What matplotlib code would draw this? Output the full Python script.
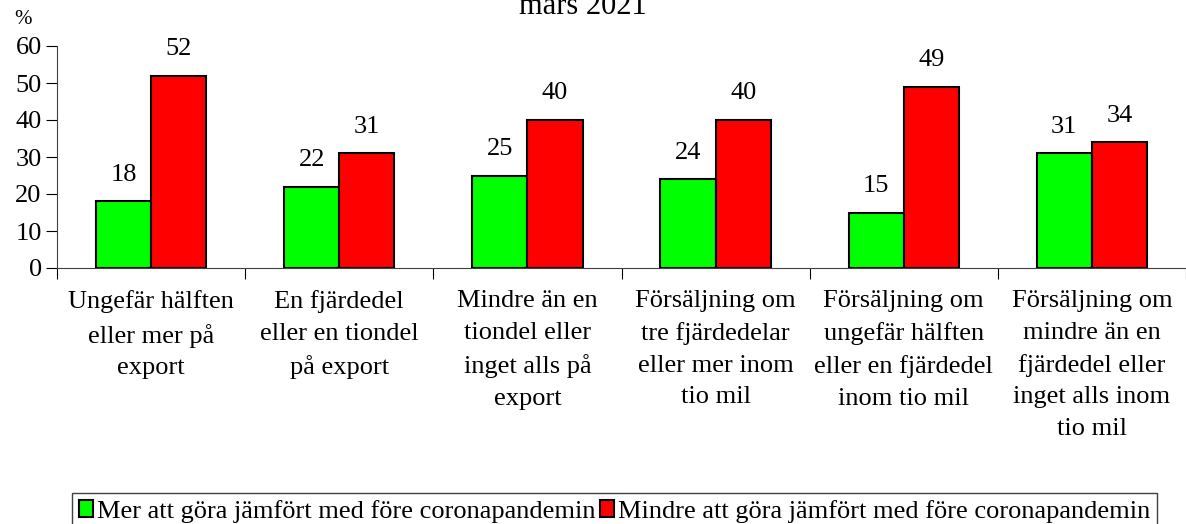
import matplotlib.pyplot as plt
import numpy as np

plt.rcParams['font.family'] = ['Liberation Serif', 'DejaVu Serif']

kategorier = ["Ungefär hälften\neller mer på\nexport",
              "En fjärdedel\neller en tiondel\npå export",
              "Mindre än en\ntiondel eller\ninget alls på\nexport",
              "Försäljning om\ntre fjärdedelar\neller mer inom\ntio mil",
              "Försäljning om\nungefär hälften\neller en fjärdedel\ninom tio mil",
              "Försäljning om\nmindre än en\nfjärdedel eller\ninget alls inom\ntio mil"]
mer = [18, 22, 25, 24, 15, 31]
mindre = [52, 31, 40, 40, 49, 34]
serier = ["Mer att göra jämfört med före coronapandemin",
          "Mindre att göra jämfört med före coronapandemin"]

fig = plt.figure(figsize=(11.86, 5.24), dpi=100)
ax = fig.add_axes([57/1186, 1-268/524, 1129/1186, 222/524])

x = np.arange(len(kategorier))
w = 0.293
b1 = ax.bar(x - w/2, mer, w, color="#00ff00", edgecolor="black", linewidth=1.5, label=serier[0])
b2 = ax.bar(x + w/2, mindre, w, color="#ff0000", edgecolor="black", linewidth=1.5, label=serier[1])

for bars, vals in ((b1, mer), (b2, mindre)):
    for b, v in zip(bars, vals):
        ax.text(b.get_x() + b.get_width()/2, v + 4.2, str(v), ha="center", va="bottom", fontsize=19)

ax.set_xlim(-0.5, len(kategorier) - 0.5)
ax.set_ylim(0, 60)
ax.set_yticks(range(0, 61, 10))
ax.tick_params(axis="y", labelsize=19, direction="out", length=8, pad=3)
ax.set_xticks(np.arange(len(kategorier) + 1) - 0.5)
ax.set_xticklabels([])
ax.tick_params(axis="x", direction="out", length=8)
for i, k in enumerate(kategorier):
    ax.text(i, -6.0, k, ha="center", va="top", fontsize=19, linespacing=1.56)

for s in ("top", "right"):
    ax.spines[s].set_visible(False)
ax.spines["left"].set_color("#404040")
ax.spines["bottom"].set_color("#404040")

fig.text(23/1186, 1 - 20/524, "%", ha="center", va="center", fontsize=15)
fig.text(583/1186, 1 - 14/524, "mars 2021", ha="center", va="baseline", fontsize=22)

fig.legend(loc="lower left", bbox_to_anchor=(72/1186, -0.01), ncol=2, fontsize=19,
           frameon=True, fancybox=False, edgecolor="#404040", framealpha=1,
           handlelength=0.55, handleheight=0.65, handletextpad=0.15, columnspacing=0.15,
           borderpad=0.25, borderaxespad=0)

fig.savefig("out.png", dpi=100)
